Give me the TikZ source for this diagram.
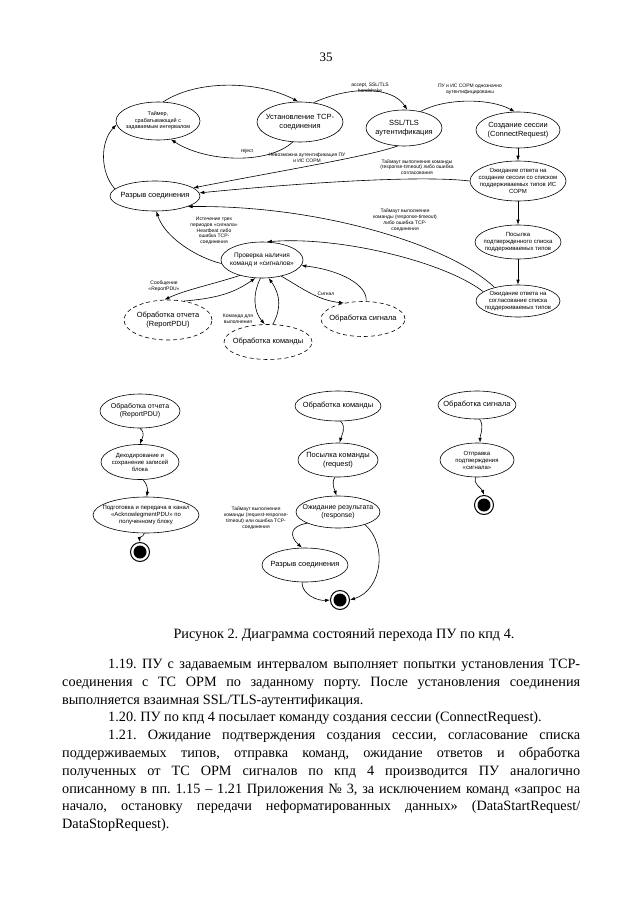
\documentclass[tikz,border=0pt]{standalone}
\usepackage{fontspec}
\setmainfont{Liberation Serif}
\newfontfamily\dg{Liberation Sans}
\usetikzlibrary{shapes.geometric,arrows.meta}
\frenchspacing
\tikzset{
  st/.style={ellipse,draw,line width=0.6bp,inner xsep=-40bp,inner ysep=-20bp,align=center,font=\dg\fontsize{7.5}{8.5}\selectfont},
  dst/.style={st,dashed,dash pattern=on 4bp off 3bp},
  sm/.style={font=\dg\fontsize{6}{7}\selectfont},
  fin/.style={circle,draw,line width=1bp,minimum size=19bp,inner sep=0pt,path picture={\fill[black] (path picture bounding box.center) circle (6.5bp);}},
  lb/.style={align=center,inner sep=0pt,font=\dg\fontsize{5}{5.8}\selectfont},
  tr/.style={-{Latex[length=5bp,width=3.5bp]},line width=0.6bp},
  ln/.style={anchor=base west,inner sep=0pt,font=\fontsize{14.3}{17.8}\selectfont}
}
\begin{document}
\begin{tikzpicture}[x=1bp,y=-1bp]
\fill[white] (0,0) rectangle (640,905);
\useasboundingbox (0,0) rectangle (640,905);

\node[font=\fontsize{13}{15}\selectfont] (pg) at (326,57) {35};

% top diagram
\node[st,font=\dg\fontsize{5.5}{6.5}\selectfont,minimum width=84bp,minimum height=38bp] (tmr) at (158,121) {Таймер,\\срабатывающий с\\задаваемым интервалом};
\node[st,minimum width=86bp,minimum height=40bp] (tcp) at (300,122) {Установление TCP-\\соединения};
\node[st,minimum width=76bp,minimum height=36bp] (ssl) at (404,128) {SSL/TLS\\аутентификация};
\node[st,minimum width=84bp,minimum height=36bp] (ses) at (518,130) {Создание сессии\\(ConnectRequest)};
\node[st,sm,minimum width=96bp,minimum height=40bp] (wses) at (518,181) {Ожидание ответа на\\создание сессии со списком\\поддерживаемых типов ИС\\СОРМ};
\node[st,sm,minimum width=86bp,minimum height=34bp] (lst) at (518,242) {Посылка\\подтвержденного списка\\поддерживаемых типов};
\node[st,sm,minimum width=84bp,minimum height=32bp] (wlst) at (518,301) {Ожидание ответа на\\согласование списка\\поддерживаемых типов};
\node[st,minimum width=90bp,minimum height=30bp] (brk) at (155,196) {Разрыв соединения};
\node[st,font=\dg\fontsize{6.5}{7.5}\selectfont,minimum width=82bp,minimum height=36bp] (chk) at (262,260) {Проверка наличия\\команд и «сигналов»};
\node[dst,minimum width=88bp,minimum height=40bp] (rep) at (168,320) {Обработка отчета\\(ReportPDU)};
\node[dst,minimum width=88bp,minimum height=35bp] (cmd) at (268,342) {Обработка команды};
\node[dst,minimum width=84bp,minimum height=35bp] (sig) at (363,319) {Обработка сигнала};

\draw[tr] (tmr.75) .. controls (200,78) and (262,82) .. (tcp.95);
\draw[tr] (tcp.250) .. controls (268,165) and (205,162) .. (tmr.-55);
\node[lb] (lrej) at (247,151) {reject};
\draw[tr] (tcp.55) .. controls (350,86) and (392,86) .. (ssl.80);
\node[lb] (lacc) at (370,88) {accept, SSL/TLS\\handshake};
\draw[tr] (ssl.45) .. controls (445,98) and (490,98) .. (ses.100);
\node[lb] (lauth) at (470,89) {ПУ и ИС СОРМ однозначно\\аутентифицированы};
\draw[tr] (ses.south) -- (wses.north);
\draw[tr] (wses.south) -- (lst.north);
\draw[tr] (lst.south) -- (wlst.north);
\draw[tr] (ssl.250) .. controls (370,156) and (285,170) .. (brk.12);
\node[lb] (lnoa) at (307,158) {Невозможна аутентификация ПУ\\и ИС СОРМ};
\draw[tr] (wses.west) .. controls (420,175) and (300,183) .. (brk.4);
\node[lb] (lto1) at (417,167) {Таймаут выполнения команды\\(response-timeout) либо ошибка\\согласования};
\draw[tr] (wlst.150) .. controls (450,245) and (320,205) .. (brk.-18);
\node[lb] (lto2) at (405,220) {Таймаут выполнения\\команды (response-timeout)\\либо ошибка TCP-\\соединения};
\draw[tr] (wlst.165) .. controls (445,262) and (340,236) .. (chk.75);
\draw[tr] (chk.185) .. controls (198,258) and (165,238) .. (brk.-85);
\node[lb] (lhb) at (214,231) {Истечение трех\\периодов «сигнала»\\Heartbeat либо\\ошибка TCP-\\соединения};
\draw[tr] (brk.170) .. controls (100,172) and (100,142) .. (tmr.185);
\draw[tr] (chk.215) .. controls (210,285) and (185,290) .. (rep.100);
\node[lb] (lrpdu) at (164,286) {Сообщение\\«ReportPDU»};
\draw[tr] (rep.50) .. controls (220,298) and (235,292) .. (chk.250);
\draw[tr] (chk.265) .. controls (252,295) and (254,312) .. (cmd.100);
\node[lb] (lcmd) at (238,319) {Команда для\\выполнения};
\draw[tr] (cmd.75) .. controls (281,310) and (281,295) .. (chk.290);
\draw[tr] (chk.320) .. controls (305,290) and (318,300) .. (sig.140);
\node[lb] (lsig) at (326,294) {Сигнал};
\draw[tr] (sig.80) .. controls (368,285) and (340,270) .. (chk.-8);

% lower diagram
\node[st,font=\dg\fontsize{7}{8}\selectfont,minimum width=80bp,minimum height=34bp] (frep) at (140,411) {Обработка отчета\\(ReportPDU)};
\node[st,sm,minimum width=78bp,minimum height=35bp] (fdec) at (140,462) {Декодирование и\\сохранение записей\\блока};
\node[st,sm,minimum width=106bp,minimum height=36bp] (fack) at (146,515) {Подготовка и передача в канал\\«AcknowlegmentPDU» по\\полученному блоку};
\node[fin] (fend) at (140,552) {};
\draw[tr] (frep.south) .. controls +(6,5) and +(2,-6) .. (fdec.north);
\draw[tr] (fdec.-80) .. controls +(5,6) and +(1,-6) .. (fack.88);
\draw[tr] (fack.-95) .. controls +(-3,6) and +(-1,-6) .. (fend.north);

\node[st,minimum width=86bp,minimum height=30bp] (gcmd) at (338,406) {Обработка команды};
\node[st,minimum width=80bp,minimum height=34bp] (greq) at (338,460) {Посылка команды\\(request)};
\node[st,font=\dg\fontsize{7}{8}\selectfont,minimum width=84bp,minimum height=32bp] (gres) at (338,512) {Ожидание результата\\(response)};
\node[st,minimum width=86bp,minimum height=34bp] (gbrk) at (305,565) {Разрыв соединения};
\node[fin] (gend) at (340,600) {};
\draw[tr] (gcmd.-80) .. controls +(6,6) and +(2,-7) .. (greq.85);
\draw[tr] (greq.-100) .. controls +(-4,6) and +(-2,-6) .. (gres.95);
\draw[tr] (gres.200) .. controls (290,526) and (289,536) .. (gbrk.100);
\node[lb] (lto3) at (256,518) {Таймаут выполнения\\команды (request-response-\\timeout) или ошибка TCP-\\соединения};
\draw[tr] (gres.-25) .. controls (388,545) and (382,590) .. (gend.east);
\draw[tr] (gbrk.-100) .. controls (302,595) and (318,601) .. (gend.west);

\node[st,minimum width=78bp,minimum height=28bp] (hsig) at (477,405) {Обработка сигнала};
\node[st,sm,minimum width=74bp,minimum height=34bp] (hack) at (477,460) {Отправка\\подтверждения\\«сигнала»};
\node[fin] (hend) at (484,505) {};
\draw[tr] (hsig.-80) .. controls +(5,6) and +(0,-7) .. (hack.80);
\draw[tr] (hack.-95) .. controls +(-3,6) and +(-2,-6) .. (hend.north);

% caption and text
\node[font=\fontsize{14.3}{17}\selectfont] (cap) at (344,635) {Рисунок 2. Диаграмма состояний перехода ПУ по кпд 4.};
\node[ln] (l1) at (108,668) {\makebox[472bp][s]{1.19. ПУ с задаваемым интервалом выполняет попытки установления TCP-}};
\node[ln] (l2) at (62,686) {\makebox[518bp][s]{соединения с ТС ОРМ по заданному порту. После установления соединения}};
\node[ln] (l3) at (62,704) {выполняется взаимная SSL/TLS-аутентификация.};
\node[ln] (l4) at (108,721) {1.20. ПУ по кпд 4 посылает команду создания сессии (ConnectRequest).};
\node[ln] (l5) at (108,739) {\makebox[472bp][s]{1.21. Ожидание подтверждения создания сессии, согласование списка}};
\node[ln] (l6) at (62,757) {\makebox[518bp][s]{поддерживаемых типов, отправка команд, ожидание ответов и обработка}};
\node[ln] (l7) at (62,775) {\makebox[518bp][s]{полученных от ТС ОРМ сигналов по кпд 4 производится ПУ аналогично}};
\node[ln] (l8) at (62,793) {\makebox[518bp][s]{описанному в пп. 1.15 – 1.21 Приложения № 3, за исключением команд «запрос на}};
\node[ln] (l9) at (62,810) {\makebox[518bp][s]{начало, остановку передачи неформатированных данных» (DataStartRequest/}};
\node[ln] (l10) at (62,828) {DataStopRequest).};
\end{tikzpicture}
\end{document}
